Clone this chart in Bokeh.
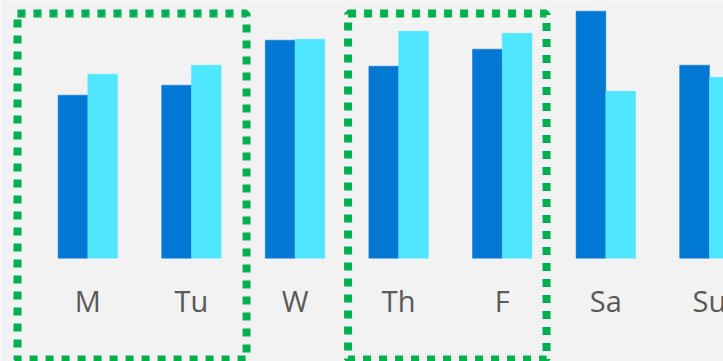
from bokeh.plotting import figure
from bokeh.models import Range1d, ColumnDataSource, BoxAnnotation
from bokeh.transform import dodge
from bokeh.core.properties import value
from bokeh.embed import file_html
from bokeh.resources import INLINE

# Weekly values, two series per day
days = ["M", "Tu", "W", "Th", "F", "Sa", "Su"]
series_a = [163, 173, 218, 192, 209, 247, 193]
series_b = [184, 193, 219, 227, 225, 167, 181]

BG = "#F2F2F2"
DARK = "#0078D4"
LIGHT = "#50E6FF"
GREEN = "#00B050"
TEXT = "#595959"

idx = list(range(len(days)))
src = ColumnDataSource(dict(x=idx, a=series_a, b=series_b, day=days))

p = figure(width=723, height=361, output_backend="svg", toolbar_location=None,
           x_range=Range1d(-0.843, 6.136), y_range=Range1d(-103.3, 257.7),
           min_border=0, outline_line_color=None,
           background_fill_color=BG, border_fill_color=BG)
p.axis.visible = False
p.grid.visible = False

bw = 0.287
p.vbar(x=dodge("x", -bw / 2, range=p.x_range), top="a", bottom=0, width=bw,
       source=src, fill_color=DARK, line_color=DARK, line_width=0.5)
p.vbar(x=dodge("x", bw / 2, range=p.x_range), top="b", bottom=0, width=bw,
       source=src, fill_color=LIGHT, line_color=LIGHT, line_width=0.5)

p.text(x="x", y=-42.5, text="day", source=src, text_align="center",
       text_baseline="middle", text_color=TEXT,
       text_font=value("Open Sans"), text_font_size="29px")

# Dotted frames around the highlighted day pairs
for left, right in [(0 - 0.679, 1 + 0.532), (3 - 0.488, 4 + 0.428)]:
    p.add_layout(BoxAnnotation(left=left, right=right, top=244.7, bottom=-101.3,
                               fill_alpha=0, line_color=GREEN, line_alpha=1.0,
                               line_width=8, line_dash="8 8"))

open("out.html", "w").write(file_html(p, INLINE))
